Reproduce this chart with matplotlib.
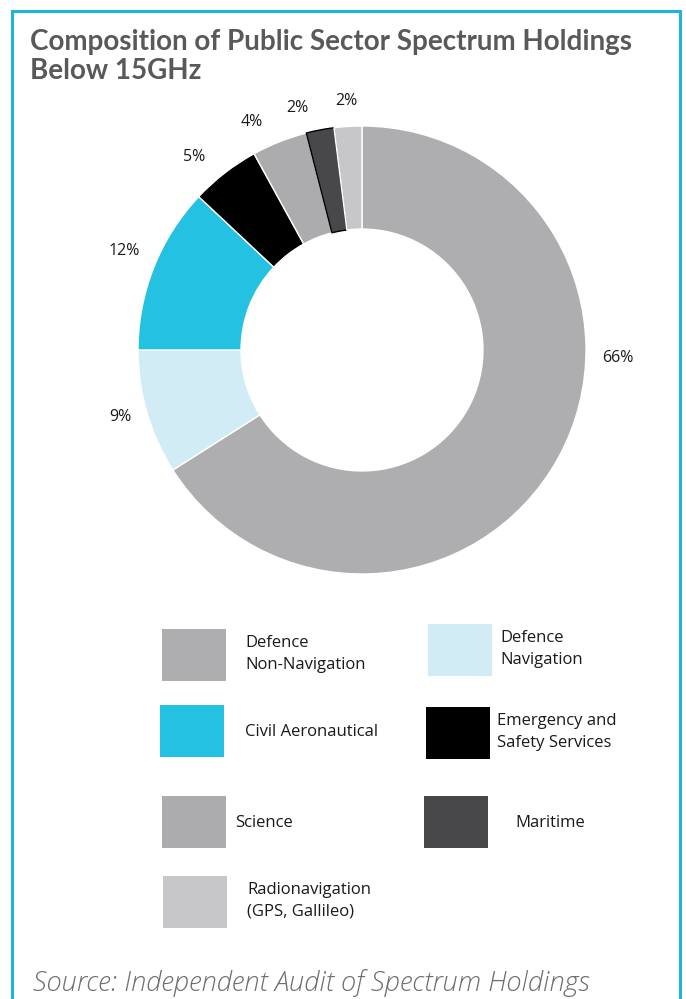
import matplotlib.pyplot as plt
from matplotlib.patches import Rectangle

# spectrum share by user group (percent of holdings below 15GHz)
categories = ["Defence\nNon-Navigation", "Defence\nNavigation", "Civil Aeronautical",
              "Emergency and\nSafety Services", "Science", "Maritime",
              "Radionavigation\n(GPS, Gallileo)"]
shares = [66, 9, 12, 5, 4, 2, 2]
colors = ["#aeaeb1", "#d1ecf4", "#25c1e3", "#000000", "#acacaf", "#48484a", "#c7c7c9"]
edges = ["white", "white", "white", "white", "white", "black", "white"]

W, H = 686, 999
plt.rcParams["font.family"] = ["Open Sans", "DejaVu Sans"]

fig = plt.figure(figsize=(W / 100, H / 100), dpi=100)


def fx(x):
    return x / W


def fy(y):
    return 1 - y / H


# frame
fig.patches.append(Rectangle((fx(12), fy(1010)), fx(668), 999 / H,
                             transform=fig.transFigure, fill=False,
                             edgecolor="#1fb4e0", linewidth=2.2, zorder=5))

fig.text(fx(30), fy(29), "Composition of Public Sector Spectrum Holdings\nBelow 15GHz",
         fontsize=20, fontweight="bold", color="#58595b", va="top",
         linespacing=1.13, family=["Lato", "DejaVu Sans"])

# donut
ax = fig.add_axes([fx(362 - 280), fy(350 + 280), fx(560), 560 / H])
wedges, _ = ax.pie(shares, colors=colors, startangle=90, counterclock=False,
                   radius=1, wedgeprops=dict(width=0.46, linewidth=1))
for w, ec in zip(wedges, edges):
    w.set_edgecolor(ec)
ax.set_xlim(-1.25, 1.25)
ax.set_ylim(-1.25, 1.25)
ax.set_aspect("equal")
ax.axis("off")

label_pos = [(1.14, -0.036), (-1.08, -0.30), (-1.06, 0.44), (-0.75, 0.86),
             (-0.49, 1.02), (-0.29, 1.08), (-0.07, 1.11)]
for v, (x, y) in zip(shares, label_pos):
    ax.text(x, y, f"{v}%", fontsize=11.5, ha="center", va="center", color="#1a1a1a")

# legend
legend_boxes = [(162, 629, 245), (428, 624, 500), (160, 705, 245), (426, 707, 497),
                (162, 796, 235), (424, 796, 515), (163, 876, 247)]
for (x, y, tx), name, c in zip(legend_boxes, categories, colors):
    fig.patches.append(Rectangle((fx(x), fy(y + 52)), fx(64), 52 / H,
                                 transform=fig.transFigure, facecolor=c,
                                 edgecolor="none"))
    ty = y + 27 if "\n" not in name else y + 25
    fig.text(fx(tx), fy(ty), name, fontsize=12, color="#1a1a1a", va="center",
             linespacing=1.45)

fig.text(fx(33), fy(983), "Source: Independent Audit of Spectrum Holdings",
         fontsize=19.7, fontstyle="italic", fontweight="light", color="#6d6e71",
         va="center")

fig.savefig("out.png", dpi=100, facecolor="white")
